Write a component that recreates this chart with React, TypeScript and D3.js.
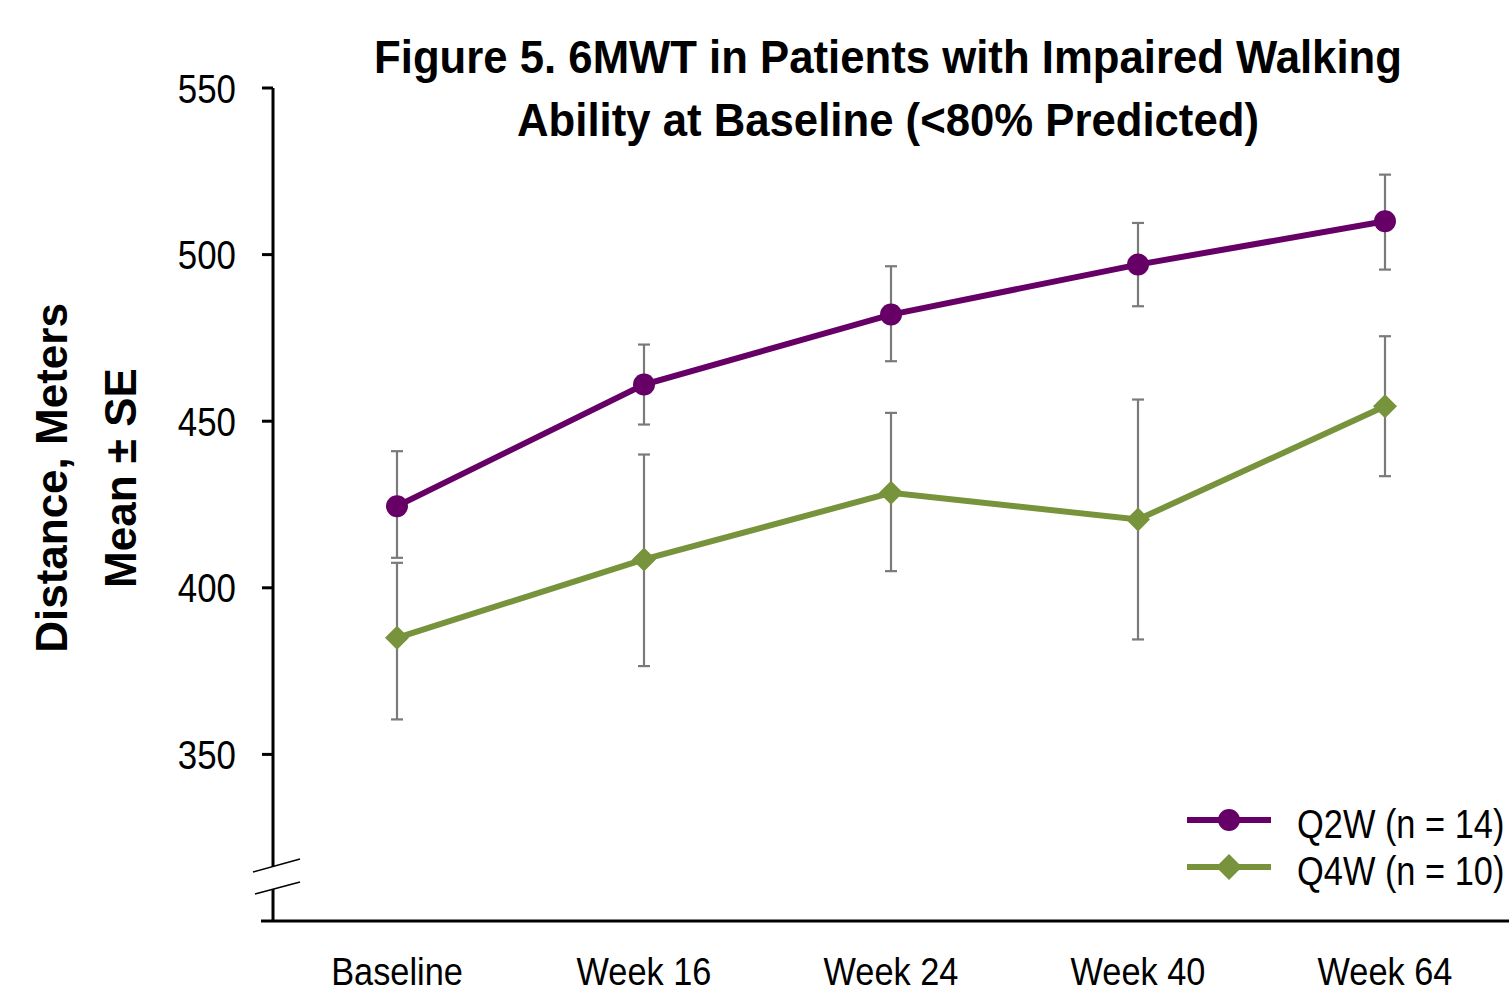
import React, { useEffect, useRef } from 'react';
import * as d3 from 'd3';

const categories = ['Baseline', 'Week 16', 'Week 24', 'Week 40', 'Week 64'];
const q2wMean = [424.5, 461, 482, 497, 510];
const q2wLow = [409, 449, 468, 484.5, 495.5];
const q2wHigh = [441, 473, 496.5, 509.5, 524];
const q4wMean = [385, 408.5, 428.5, 420.5, 454.5];
const q4wLow = [360.5, 376.5, 405, 384.5, 433.5];
const q4wHigh = [407.5, 440, 452.5, 456.5, 475.5];
const yTicks = [350, 400, 450, 500, 550];
const seriesNames = ['Q2W (n = 14)', 'Q4W (n = 10)'];
const titleLines = ['Figure 5. 6MWT in Patients with Impaired Walking', 'Ability at Baseline (<80% Predicted)'];

const FONT = '"Liberation Sans", Arial, sans-serif';
const PURPLE = '#660066';
const GREEN = '#77933C';

export default function App() {
  const ref = useRef<SVGSVGElement>(null);

  useEffect(() => {
    const svg = d3.select(ref.current);
    svg.selectAll('*').remove();

    const x = d3.scalePoint<string>().domain(categories).range([397, 1385]);
    const y = d3.scaleLinear().domain([300, 550]).range([921, 88]);
    const axisX = 273;

    // narrowed text helper
    const label = (tx: number, ty: number, txt: string, size: number, sx: number, anchor = 'middle', bold = false) =>
      svg.append('text')
        .attr('transform', `translate(${tx} ${ty}) scale(${sx} 1)`)
        .attr('text-anchor', anchor)
        .attr('font-family', FONT)
        .attr('font-weight', bold ? 'bold' : 'normal')
        .attr('font-size', size)
        .attr('fill', '#000')
        .text(txt);

    // title
    label(888, 73, titleLines[0], 47, 0.93, 'middle', true);
    label(888, 136, titleLines[1], 47, 0.93, 'middle', true);

    // y axis label
    const ylab = svg.append('text')
      .attr('text-anchor', 'middle')
      .attr('font-family', FONT)
      .attr('font-weight', 'bold')
      .attr('font-size', 44)
      .attr('transform', 'translate(0 478) rotate(-90)');
    ylab.append('tspan').attr('x', 0).attr('y', 67).text('Distance, Meters');
    ylab.append('tspan').attr('x', 0).attr('y', 136).text('Mean ± SE');

    // y axis with break
    svg.append('line').attr('x1', axisX).attr('x2', axisX).attr('y1', y(550)).attr('y2', 866)
      .attr('stroke', '#000').attr('stroke-width', 3);
    svg.append('line').attr('x1', axisX).attr('x2', axisX).attr('y1', 889).attr('y2', 922)
      .attr('stroke', '#000').attr('stroke-width', 3);
    svg.append('line').attr('x1', 253).attr('y1', 872).attr('x2', 300).attr('y2', 859)
      .attr('stroke', '#000').attr('stroke-width', 1.5);
    svg.append('line').attr('x1', 255).attr('y1', 894).attr('x2', 300).attr('y2', 882)
      .attr('stroke', '#000').attr('stroke-width', 1.5);

    svg.selectAll('ytick').data(yTicks).enter().append('line')
      .attr('x1', 262).attr('x2', axisX).attr('y1', d => y(d)).attr('y2', d => y(d))
      .attr('stroke', '#000').attr('stroke-width', 3);
    yTicks.forEach(d => label(236, y(d) + 14.5, String(d), 41, 0.85, 'end'));

    // x axis
    svg.append('line').attr('x1', 261).attr('x2', 1509).attr('y1', 921).attr('y2', 921)
      .attr('stroke', '#000').attr('stroke-width', 3);
    categories.forEach(c => label(x(c) as number, 985, c, 39, 0.88));

    const series = [
      { mean: q2wMean, low: q2wLow, high: q2wHigh, color: PURPLE, shape: 'circle' },
      { mean: q4wMean, low: q4wLow, high: q4wHigh, color: GREEN, shape: 'diamond' },
    ];

    // error bars first
    series.forEach(s => {
      const g = svg.append('g').attr('stroke', '#7a7a7a').attr('stroke-width', 2.2);
      categories.forEach((c, i) => {
        const cx = x(c) as number;
        g.append('line').attr('x1', cx).attr('x2', cx).attr('y1', y(s.high[i])).attr('y2', y(s.low[i]));
        g.append('line').attr('x1', cx - 6).attr('x2', cx + 6).attr('y1', y(s.high[i])).attr('y2', y(s.high[i]));
        g.append('line').attr('x1', cx - 6).attr('x2', cx + 6).attr('y1', y(s.low[i])).attr('y2', y(s.low[i]));
      });
    });

    const diamond = (cx: number, cy: number, r: number) =>
      `M${cx},${cy - r}L${cx + r},${cy}L${cx},${cy + r}L${cx - r},${cy}Z`;

    series.forEach(s => {
      const line = d3.line<number>()
        .x((d, i) => x(categories[i]) as number)
        .y(d => y(d));
      svg.append('path').attr('d', line(s.mean) as string)
        .attr('fill', 'none').attr('stroke', s.color).attr('stroke-width', 6);
      s.mean.forEach((v, i) => {
        const cx = x(categories[i]) as number;
        if (s.shape === 'circle') {
          svg.append('circle').attr('cx', cx).attr('cy', y(v)).attr('r', 11).attr('fill', s.color);
        } else {
          svg.append('path').attr('d', diamond(cx, y(v), 12)).attr('fill', s.color);
        }
      });
    });

    // legend
    series.forEach((s, i) => {
      const ly = 820 + i * 47;
      svg.append('line').attr('x1', 1187).attr('x2', 1271).attr('y1', ly).attr('y2', ly)
        .attr('stroke', s.color).attr('stroke-width', 6);
      if (s.shape === 'circle') {
        svg.append('circle').attr('cx', 1229).attr('cy', ly).attr('r', 11).attr('fill', s.color);
      } else {
        svg.append('path').attr('d', diamond(1229, ly, 13)).attr('fill', s.color);
      }
      label(1297, ly + 18, seriesNames[i], 40, 0.86, 'start');
    });
  }, []);

  return (
    <svg ref={ref} width={1509} height={989}
      style={{ position: 'absolute', left: 0, top: 0, background: '#fff' }} />
  );
}
